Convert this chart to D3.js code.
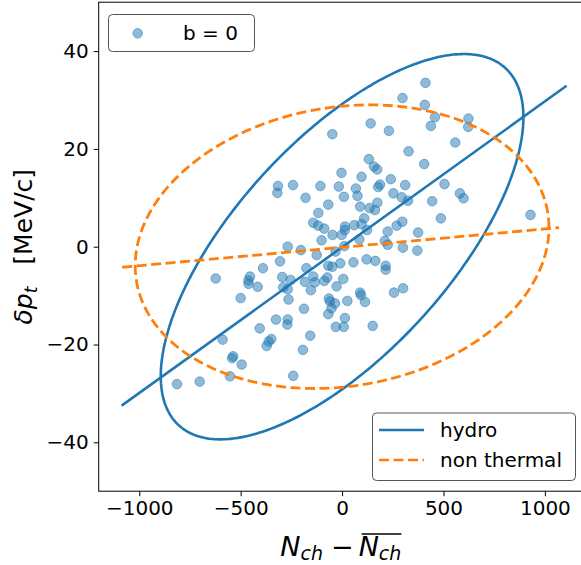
<!DOCTYPE html>
<html>
<head>
<meta charset="utf-8">
<script src="https://cdn.jsdelivr.net/npm/d3@7"></script>
<style>
    body { margin: 0; background: #fff; }
    svg { display: block; font-family: "DejaVu Sans", sans-serif; }
</style>
</head>
<body>
<div id="chart"></div>
<script>

// axis setup
const xDomain = [-1200, 1217];
const yDomain = [-50, 50];
const xTicks = [-1000, -500, 0, 500, 1000];
const yTicks = [-40, -20, 0, 20, 40];

// scatter: [N_ch - mean N_ch, delta p_t]
const samples = [
    [411, 33.5], [298, 30.4], [408, 29.0], [458, 26.5], [438, 24.7], [623, 26.2], [622, 24.5],
    [141, 25.2], [231, 23.7], [-48, 23.0], [558, 21.3], [328, 19.5], [405, 16.9], [132, 17.9],
    [157, 16.4], [173, 15.8], [-3, 15.1], [96, 14.3], [240, 13.8], [187, 12.7], [178, 12.2],
    [311, 12.6], [505, 12.8], [-107, 12.4], [-242, 12.6], [-316, 12.4], [-319, 11.0], [-16, 12.3],
    [68, 11.9], [-180, 10.0], [9, 10.2], [76, 10.4], [253, 10.9], [294, 10.1], [325, 9.4],
    [444, 9.3], [581, 10.9], [599, 9.9], [174, 9.0], [-68, 8.6], [89, 8.2], [136, 7.9],
    [162, 7.5], [-117, 6.9], [487, 5.8], [929, 6.5], [-142, 4.9], [-118, 4.3], [-88, 3.7],
    [14, 4.1], [14, 3.4], [60, 4.4], [109, 5.8], [96, 4.6], [123, 3.4], [297, 5.1],
    [269, 4.3], [225, 3.1], [375, 2.9], [-101, 1.3], [-47, 2.4], [-2, 2.4], [85, 1.5],
    [211, 1.2], [225, 0.4], [300, -0.2], [371, -0.8], [-203, -0.7], [-268, 0], [-125, -1.7],
    [-32, -1.0], [11, 0.1], [56, -3.2], [121, -2.6], [164, -2.9], [215, -3.9], [215, -4.7],
    [-176, -4.4], [-68, -3.9], [-48, -4.1], [-9, -3.4], [-306, -3.0], [-390, -4.4], [-183, -7.2],
    [-142, -6.1], [-134, -7.3], [-88, -7.0], [-73, -6.3], [-27, -8.1], [6, -6.6], [-154, -8.9],
    [-295, -6.2], [-254, -6.8], [-454, -6.1], [-462, -6.9], [-461, -7.6], [-416, -8.2], [-290, -8.3],
    [-268, -8.7], [-623, -6.5], [89, -9.4], [256, -9.4], [301, -8.5], [-65, -10.6], [26, -11.1],
    [113, -11.3], [93, -9.9], [-60, -11.2], [-35, -11.6], [-52, -12.6], [-68, -13.8], [-188, -12.7],
    [14, -14.6], [-31, -16.4], [8, -16.4], [151, -16.2], [-157, -18.2], [-193, -21.1], [-500, -10.5],
    [-264, -10.8], [-326, -14.9], [-268, -14.9], [-270, -15.9], [-406, -16.7], [-349, -18.9], [-362, -19.4],
    [-372, -20.3], [-589, -19.0], [-537, -22.4], [-542, -22.8], [-495, -24.1], [-553, -26.5], [-241, -26.4],
    [-814, -28.1], [-702, -27.6]
];

// fitted lines (end points)
const hydroLine = [[-1087, -32.5], [1107, 32.9]];
const thermalLine = [[-1084, -4.2], [1070, 3.9]];

// ellipses: [x half-extent, y half-extent, phase between x and y]
const hydroEllipse = [894, 39.4, 0.834];
const thermalEllipse = [1020, 29, 1.436];

const scatterLabel = "b = 0";
const lineLabels = ["hydro", "non thermal"];

const blue = "#1f77b4";
const orange = "#ff7f0e";

let width = 581, height = 565;
let plot = { left: 98.7, right: 588.9, top: 2.2, bottom: 491.2 };

let svg = d3.select("#chart").append("svg")
    .attr("width", width)
    .attr("height", height);

let x = d3.scaleLinear().domain(xDomain).range([plot.left, plot.right]);
let y = d3.scaleLinear().domain(yDomain).range([plot.bottom, plot.top]);

svg.append("clipPath").attr("id", "clip")
    .append("rect")
    .attr("x", plot.left).attr("y", plot.top)
    .attr("width", plot.right - plot.left)
    .attr("height", plot.bottom - plot.top);

let fmt = d3.format("d");

// axes
let xAxis = d3.axisBottom(x).tickValues(xTicks).tickSize(5).tickPadding(5).tickSizeOuter(0).tickFormat(fmt);
let yAxis = d3.axisLeft(y).tickValues(yTicks).tickSize(5).tickPadding(5).tickSizeOuter(0).tickFormat(fmt);

svg.append("g")
    .attr("class", "axis x-axis")
    .attr("transform", "translate(0," + plot.bottom + ")")
    .call(xAxis);

svg.append("g")
    .attr("class", "axis y-axis")
    .attr("transform", "translate(" + plot.left + ",0)")
    .call(yAxis);

svg.selectAll(".axis .domain").remove();
svg.selectAll(".axis line").attr("stroke", "#000").attr("stroke-width", 1);
svg.selectAll(".axis text")
    .attr("fill", "#000")
    .style("font-size", "20px")
    .style("font-family", "'DejaVu Sans', sans-serif");

let area = svg.append("g").attr("clip-path", "url(#clip)");

// scatter points
area.selectAll(".dot")
    .data(samples)
    .enter()
    .append("circle")
    .attr("class", "dot")
    .attr("cx", d => x(d[0]))
    .attr("cy", d => y(d[1]))
    .attr("r", 4.8)
    .attr("fill", blue)
    .attr("fill-opacity", 0.5)
    .attr("stroke", blue)
    .attr("stroke-opacity", 0.5)
    .attr("stroke-width", 1);

let line = d3.line()
    .x(d => x(d[0]))
    .y(d => y(d[1]));

let ellipsePoints = function(e) {
    return d3.range(0, 2 * Math.PI, Math.PI / 180)
        .map(t => [e[0] * Math.cos(t), e[1] * Math.cos(t - e[2])]);
};

let closedLine = d3.line()
    .x(d => x(d[0]))
    .y(d => y(d[1]))
    .curve(d3.curveLinearClosed);

area.append("path")
    .attr("d", closedLine(ellipsePoints(hydroEllipse)))
    .attr("fill", "none")
    .attr("stroke", blue)
    .attr("stroke-width", 2.6);

area.append("path")
    .attr("d", line(hydroLine))
    .attr("fill", "none")
    .attr("stroke", blue)
    .attr("stroke-width", 2.6);

area.append("path")
    .attr("d", closedLine(ellipsePoints(thermalEllipse)))
    .attr("fill", "none")
    .attr("stroke", orange)
    .attr("stroke-width", 2.8)
    .attr("stroke-dasharray", "10,4.5");

area.append("path")
    .attr("d", line(thermalLine))
    .attr("fill", "none")
    .attr("stroke", orange)
    .attr("stroke-width", 2.8)
    .attr("stroke-dasharray", "10,4.5");

// frame (right edge falls outside the picture)
svg.append("rect")
    .attr("x", plot.left).attr("y", plot.top)
    .attr("width", plot.right - plot.left)
    .attr("height", plot.bottom - plot.top)
    .attr("fill", "none")
    .attr("stroke", "#000")
    .attr("stroke-width", 1);

// x label: N_ch - overline(N_ch)
let xl = svg.append("text")
    .attr("x", 0)
    .attr("y", 556)
    .style("font-size", "27px")
    .style("font-style", "italic");
xl.append("tspan").text("N");
xl.append("tspan").attr("dy", 4).style("font-size", "19px").text("ch");
xl.append("tspan").attr("dy", -4).attr("dx", 8).style("font-style", "normal").text("\u2212");
xl.append("tspan").attr("dx", 5).text("N");
xl.append("tspan").attr("dy", 4).style("font-size", "19px").text("ch");

let xlNode = xl.node();
let xlWidth = xlNode.getComputedTextLength() + 13;
xl.attr("x", (plot.left + 581) / 2 - xlWidth / 2 + 1);
let nBox = xlNode.getExtentOfChar(4);
let hBox = xlNode.getExtentOfChar(6);
svg.append("line")
    .attr("x1", nBox.x + 3)
    .attr("x2", hBox.x + hBox.width)
    .attr("y1", nBox.y + 3)
    .attr("y2", nBox.y + 3)
    .attr("stroke", "#000")
    .attr("stroke-width", 1.5);

// y label
let yl = svg.append("text")
    .attr("transform", "translate(32," + ((plot.top + plot.bottom) / 2) + ") rotate(-90)")
    .style("text-anchor", "middle")
    .style("font-size", "25px");
yl.append("tspan").style("font-style", "italic").text("\u03b4p");
yl.append("tspan").attr("dy", 5).style("font-style", "italic").style("font-size", "17px").text("t");
yl.append("tspan").attr("dy", -5).attr("dx", 22).text("[MeV/c]");

// legend for the scatter
let leg1 = svg.append("g");
leg1.append("rect")
    .attr("x", 108.5).attr("y", 14.5)
    .attr("width", 146).attr("height", 37)
    .attr("rx", 4)
    .attr("fill", "#fff")
    .attr("stroke", "#555")
    .attr("stroke-width", 1);
leg1.append("circle")
    .attr("cx", 137.7).attr("cy", 33.3).attr("r", 4.8)
    .attr("fill", blue).attr("fill-opacity", 0.5)
    .attr("stroke", blue).attr("stroke-opacity", 0.5);
leg1.append("text")
    .attr("x", 183).attr("y", 40)
    .style("font-size", "20px")
    .text(scatterLabel);

// legend for the lines
let leg2 = svg.append("g");
leg2.append("rect")
    .attr("x", 372.5).attr("y", 413)
    .attr("width", 203).attr("height", 67.5)
    .attr("rx", 4)
    .attr("fill", "#fff")
    .attr("stroke", "#555")
    .attr("stroke-width", 1);

let legStyles = [
    { color: blue, dash: null, y: 430 },
    { color: orange, dash: "10,4.5", y: 460 }
];

lineLabels.forEach((lab, i) => {
    let s = legStyles[i];
    leg2.append("line")
        .attr("x1", 379).attr("x2", 424)
        .attr("y1", s.y).attr("y2", s.y)
        .attr("stroke", s.color)
        .attr("stroke-width", 2.7)
        .attr("stroke-dasharray", s.dash);
    leg2.append("text")
        .attr("x", 440).attr("y", s.y + 7)
        .style("font-size", "20px")
        .text(lab);
});

</script>
</body>
</html>
